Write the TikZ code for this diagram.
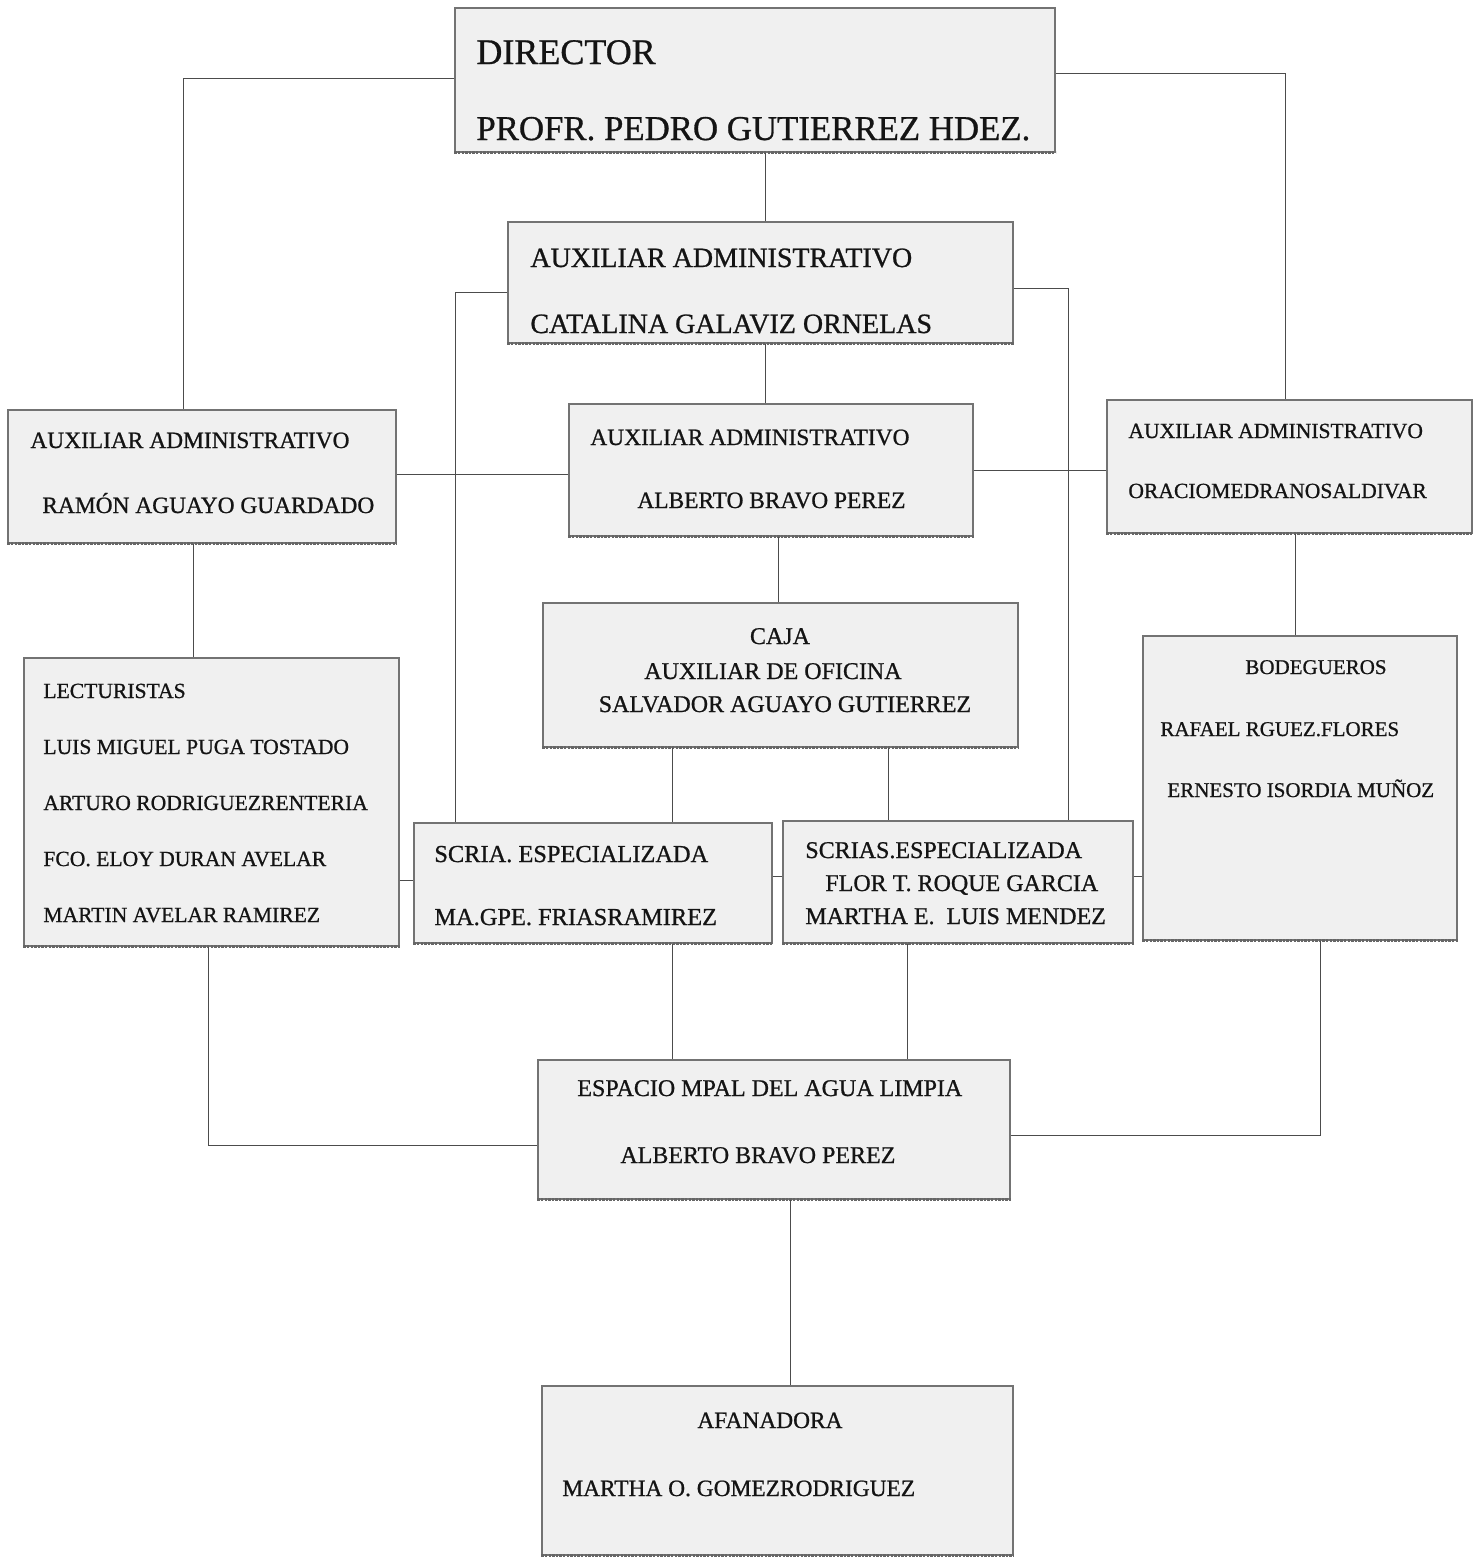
\documentclass[tikz,border=0pt]{standalone}
\usepackage{fontspec}
\setmainfont{Liberation Serif}[FakeBold=0.8]
\usetikzlibrary{fit}
\tikzset{
  orgbox/.style={draw=black!55, line width=0.6pt, fill=black!6, inner sep=0pt},
  shadowline/.style={draw=black!60, line width=1.6pt, dash pattern=on 1.2pt off 0.6pt},
  link/.style={draw=black!70, line width=0.5pt},
  txt/.style={inner sep=0pt, text=black!92},
}
\begin{document}
\begin{tikzpicture}[x=0.5pt, y=-0.5pt]
\useasboundingbox (0,0) rectangle (1478,1560);
\fill[white] (0,0) rectangle (1478,1560);

% boxes
\node[orgbox, fit={(455,8) (1055,152)}] (director) {};
\node[orgbox, fit={(508,222) (1013,343)}] (catalina) {};
\node[orgbox, fit={(8,410) (396,543)}] (ramon) {};
\node[orgbox, fit={(569,404) (973,536)}] (alberto) {};
\node[orgbox, fit={(1107,400) (1472,533)}] (oracio) {};
\node[orgbox, fit={(543,603) (1018,747)}] (caja) {};
\node[orgbox, fit={(24,658) (399,946)}] (lect) {};
\node[orgbox, fit={(414,823) (772,943)}] (scria) {};
\node[orgbox, fit={(783,821) (1133,943)}] (scrias) {};
\node[orgbox, fit={(1143,636) (1457,940)}] (bodeg) {};
\node[orgbox, fit={(538,1060) (1010,1199)}] (espacio) {};
\node[orgbox, fit={(542,1386) (1013,1555)}] (afan) {};

\foreach \b in {director,catalina,ramon,alberto,oracio,caja,lect,scria,scrias,bodeg,espacio,afan}{
  \draw[shadowline] (\b.south west) -- (\b.south east);
}

% connectors
\draw[link] (director.west |- 0,78) -| (ramon.north -| 183,0);
\draw[link] (director.east |- 0,73) -| (oracio.north -| 1285,0);
\draw[link] (director.south -| 765,0) -- (catalina.north -| 765,0);
\draw[link] (catalina.south -| 765,0) -- (alberto.north -| 765,0);
\draw[link] (catalina.west |- 0,292) -| (scria.north -| 455,0);
\draw[link] (catalina.east |- 0,288) -| (scrias.north -| 1068,0);
\draw[link] (ramon.east |- 0,474) -- (alberto.west |- 0,474);
\draw[link] (alberto.east |- 0,470) -- (oracio.west |- 0,470);
\draw[link] (alberto.south -| 778,0) -- (caja.north -| 778,0);
\draw[link] (ramon.south -| 193,0) -- (lect.north -| 193,0);
\draw[link] (oracio.south -| 1295,0) -- (bodeg.north -| 1295,0);
\draw[link] (caja.south -| 672,0) -- (scria.north -| 672,0);
\draw[link] (caja.south -| 888,0) -- (scrias.north -| 888,0);
\draw[link] (lect.east |- 0,880) -- (scria.west |- 0,880);
\draw[link] (scria.east |- 0,876) -- (scrias.west |- 0,876);
\draw[link] (scrias.east |- 0,876) -- (bodeg.west |- 0,876);
\draw[link] (scria.south -| 672,0) -- (espacio.north -| 672,0);
\draw[link] (scrias.south -| 907,0) -- (espacio.north -| 907,0);
\draw[link] (lect.south -| 208,0) |- (espacio.west |- 0,1145);
\draw[link] (bodeg.south -| 1320,0) |- (espacio.east |- 0,1135);
\draw[link] (espacio.south -| 790,0) -- (afan.north -| 790,0);

% texts
\node[txt, anchor=base west, font=\fontsize{18}{20}\selectfont] (t-dir1) at (476,64) {DIRECTOR};
\node[txt, anchor=base west, font=\fontsize{17.4}{20}\selectfont] (t-dir2) at (476,140) {PROFR. PEDRO GUTIERREZ HDEZ.};

\node[txt, anchor=base west, font=\fontsize{14}{16}\selectfont] (t-cat1) at (530,267) {AUXILIAR ADMINISTRATIVO};
\node[txt, anchor=base west, font=\fontsize{14}{16}\selectfont] (t-cat2) at (530,333) {CATALINA GALAVIZ ORNELAS};

\node[txt, anchor=base west, font=\fontsize{11.7}{14}\selectfont] (t-ram1) at (30,448) {AUXILIAR ADMINISTRATIVO};
\node[txt, anchor=base west, font=\fontsize{11.7}{14}\selectfont] (t-ram2) at (42,513) {RAMÓN AGUAYO GUARDADO};

\node[txt, anchor=base west, font=\fontsize{11.7}{14}\selectfont] (t-alb1) at (590,445) {AUXILIAR ADMINISTRATIVO};
\node[txt, anchor=base west, font=\fontsize{11.7}{14}\selectfont] (t-alb2) at (637,508) {ALBERTO BRAVO PEREZ};

\node[txt, anchor=base west, font=\fontsize{10.8}{13}\selectfont] (t-ora1) at (1128,438) {AUXILIAR ADMINISTRATIVO};
\node[txt, anchor=base west, font=\fontsize{10.8}{13}\selectfont] (t-ora2) at (1128,498) {ORACIOMEDRANOSALDIVAR};

\node[txt, anchor=base, font=\fontsize{12}{14}\selectfont] (t-caj1) at (780,644) {CAJA};
\node[txt, anchor=base, font=\fontsize{12}{14}\selectfont] (t-caj2) at (773,679) {AUXILIAR DE OFICINA};
\node[txt, anchor=base, font=\fontsize{12}{14}\selectfont] (t-caj3) at (785,712) {SALVADOR AGUAYO GUTIERREZ};

\node[txt, anchor=base west, font=\fontsize{10.8}{13}\selectfont] (t-lec1) at (43,698) {LECTURISTAS};
\node[txt, anchor=base west, font=\fontsize{10.8}{13}\selectfont] (t-lec2) at (43,754) {LUIS MIGUEL PUGA TOSTADO};
\node[txt, anchor=base west, font=\fontsize{10.8}{13}\selectfont] (t-lec3) at (43,810) {ARTURO RODRIGUEZRENTERIA};
\node[txt, anchor=base west, font=\fontsize{10.8}{13}\selectfont] (t-lec4) at (43,866) {FCO. ELOY DURAN AVELAR};
\node[txt, anchor=base west, font=\fontsize{10.8}{13}\selectfont] (t-lec5) at (43,922) {MARTIN AVELAR RAMIREZ};

\node[txt, anchor=base west, font=\fontsize{12.2}{14}\selectfont] (t-scr1) at (434,862) {SCRIA. ESPECIALIZADA};
\node[txt, anchor=base west, font=\fontsize{12.2}{14}\selectfont] (t-scr2) at (434,925) {MA.GPE. FRIASRAMIREZ};

\node[txt, anchor=base west, font=\fontsize{12}{14}\selectfont] (t-scs1) at (805,858) {SCRIAS.ESPECIALIZADA};
\node[txt, anchor=base west, font=\fontsize{12}{14}\selectfont] (t-scs2) at (825,891) {FLOR T. ROQUE GARCIA};
\node[txt, anchor=base west, font=\fontsize{12}{14}\selectfont] (t-scs3) at (805,924) {MARTHA E.\ \ LUIS MENDEZ};

\node[txt, anchor=base west, font=\fontsize{10.5}{13}\selectfont] (t-bod1) at (1245,674) {BODEGUEROS};
\node[txt, anchor=base west, font=\fontsize{10.5}{13}\selectfont] (t-bod2) at (1160,736) {RAFAEL RGUEZ.FLORES};
\node[txt, anchor=base west, font=\fontsize{10.5}{13}\selectfont] (t-bod3) at (1167,797) {ERNESTO ISORDIA MUÑOZ};

\node[txt, anchor=base west, font=\fontsize{12}{14}\selectfont] (t-esp1) at (577,1096) {ESPACIO MPAL DEL AGUA LIMPIA};
\node[txt, anchor=base west, font=\fontsize{12}{14}\selectfont] (t-esp2) at (620,1163) {ALBERTO BRAVO PEREZ};

\node[txt, anchor=base west, font=\fontsize{11.7}{14}\selectfont] (t-afa1) at (697,1428) {AFANADORA};
\node[txt, anchor=base west, font=\fontsize{11.7}{14}\selectfont] (t-afa2) at (562,1496) {MARTHA O. GOMEZRODRIGUEZ};
\end{tikzpicture}
\end{document}
